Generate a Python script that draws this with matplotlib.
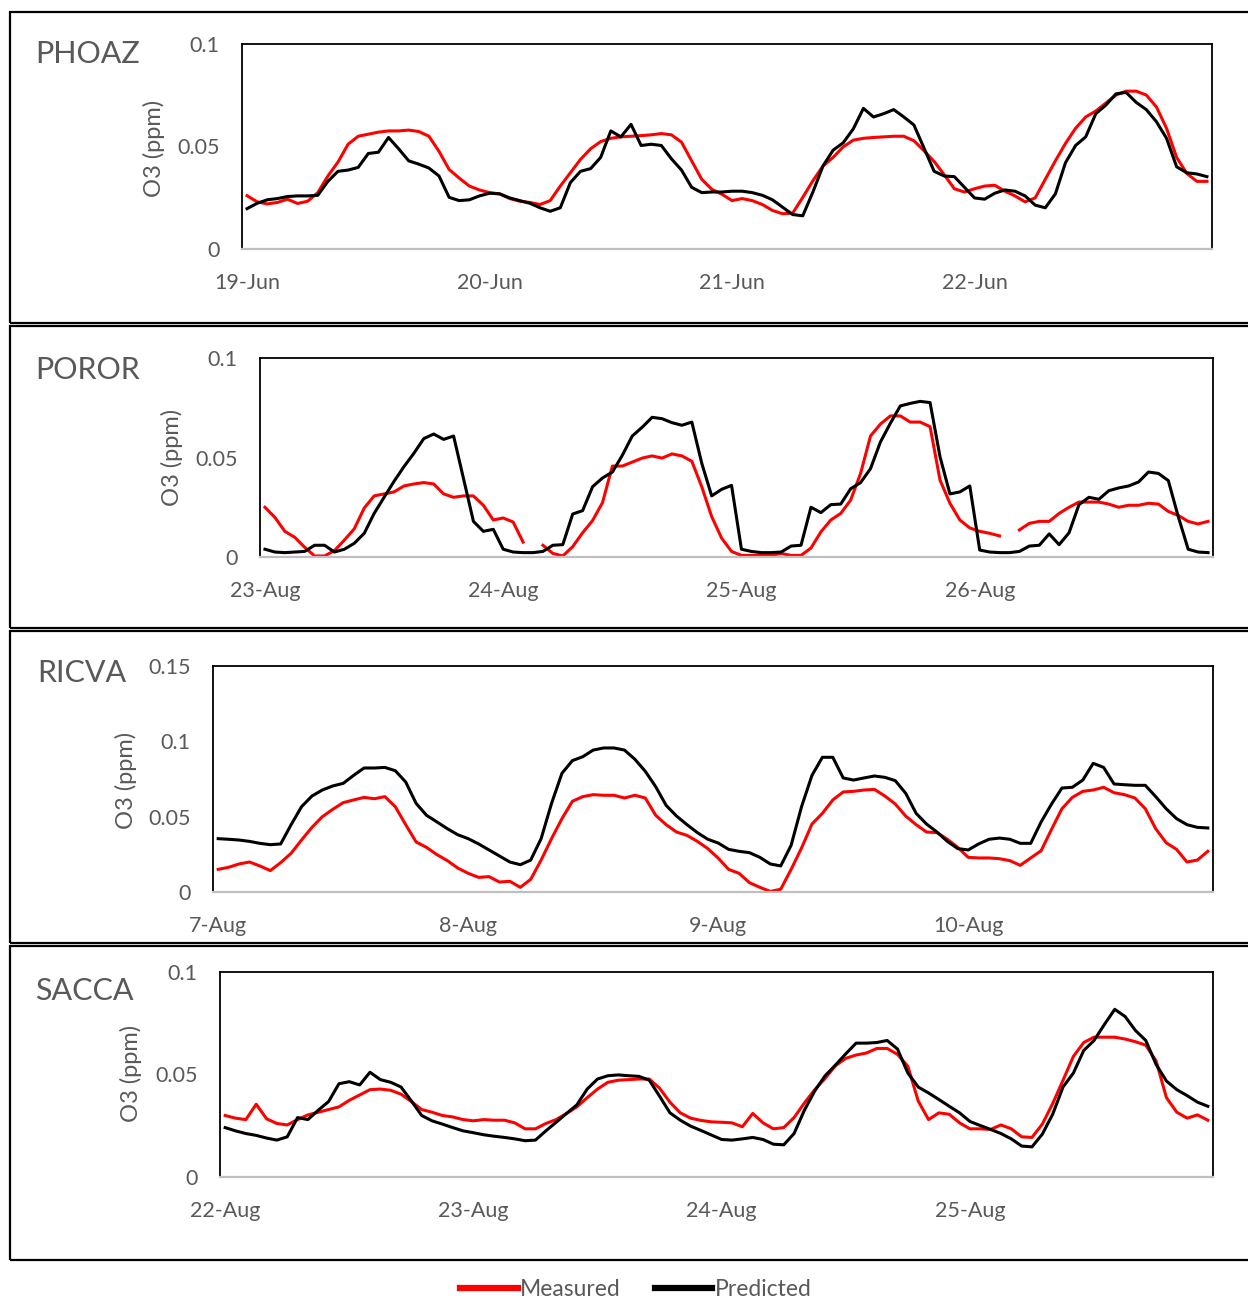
"""
Measured vs predicted hourly O3 at four stations (4-day windows).
"""

import numpy as np
import matplotlib.pyplot as plt
from matplotlib.patches import Rectangle
from matplotlib.lines import Line2D

nan = np.nan

# ── Data: hourly O3 (ppm), 96 hours per station ─────────────────────
phoaz_days = ["19-Jun", "20-Jun", "21-Jun", "22-Jun"]
phoaz_measured = [
    0.026, 0.023, 0.022, 0.0227, 0.0243, 0.0222, 0.0233, 0.0275,
    0.0356, 0.0424, 0.0511, 0.055, 0.056, 0.057, 0.0576, 0.0576,
    0.058, 0.0573, 0.055, 0.0476, 0.0388, 0.0346, 0.0307, 0.0288,
    0.0275, 0.0269, 0.0246, 0.0233, 0.0227, 0.0217, 0.0236, 0.0307,
    0.0372, 0.0437, 0.0489, 0.0524, 0.054, 0.0547, 0.055, 0.0553,
    0.0557, 0.0563, 0.0557, 0.0521, 0.043, 0.034, 0.0291, 0.0267,
    0.0236, 0.0246, 0.0236, 0.0217, 0.0188, 0.0172, 0.0175, 0.0252,
    0.0333, 0.0405, 0.0447, 0.0498, 0.0531, 0.054, 0.0544, 0.0547,
    0.055, 0.055, 0.0528, 0.0479, 0.0427, 0.0362, 0.0294, 0.0278,
    0.0294, 0.0307, 0.0311, 0.0282, 0.0259, 0.023, 0.0249, 0.034,
    0.043, 0.0515, 0.0589, 0.0644, 0.0673, 0.0712, 0.0751, 0.077,
    0.077, 0.0751, 0.0693, 0.0589, 0.0447, 0.0369, 0.033, 0.033,
]
phoaz_predicted = [
    0.0197, 0.0223, 0.024, 0.0246, 0.0256, 0.0259, 0.0259, 0.0262,
    0.033, 0.0379, 0.0385, 0.0398, 0.0466, 0.0472, 0.0544, 0.0489,
    0.043, 0.0414, 0.0395, 0.0356, 0.0252, 0.0236, 0.024, 0.0259,
    0.0272, 0.0269, 0.0249, 0.0236, 0.0223, 0.0201, 0.0184, 0.0201,
    0.0324, 0.0379, 0.0392, 0.0447, 0.0576, 0.0547, 0.0608, 0.0505,
    0.0511, 0.0505, 0.044, 0.0385, 0.0301, 0.0275, 0.0278, 0.0278,
    0.0282, 0.0282, 0.0275, 0.0262, 0.024, 0.0204, 0.0168, 0.0162,
    0.0278, 0.0405, 0.0482, 0.0518, 0.0586, 0.0686, 0.0644, 0.066,
    0.068, 0.0644, 0.0605, 0.0492, 0.0379, 0.0356, 0.0353, 0.0301,
    0.0249, 0.0243, 0.0272, 0.0288, 0.0282, 0.0259, 0.0214, 0.0201,
    0.0269, 0.0421, 0.0505, 0.0547, 0.066, 0.0702, 0.0757, 0.0764,
    0.0715, 0.068, 0.0621, 0.054, 0.0401, 0.0372, 0.0366, 0.0353,
]

poror_days = ["23-Aug", "24-Aug", "25-Aug", "26-Aug"]
poror_measured = [
    0.025, 0.0199, 0.0129, 0.0099, 0.0049, 0.0005, 0.0005, 0.0032,
    0.0085, 0.0142, 0.0246, 0.0307, 0.0317, 0.0327, 0.0357, 0.0367,
    0.0374, 0.0367, 0.0317, 0.030, 0.0307, 0.0307, 0.026, 0.0186,
    0.0196, 0.0176, 0.0075, nan, 0.0059, 0.0018, 0.0005, 0.0052,
    0.0122, 0.0183, 0.0273, 0.0457, 0.0457, 0.0477, 0.0497, 0.0508,
    0.0497, 0.0518, 0.0508, 0.0481, 0.0353, 0.0203, 0.0095, 0.0028,
    0.0008, 0.0008, 0.0008, 0.0008, 0.0018, 0.0008, 0.0008, 0.0045,
    0.0126, 0.0186, 0.0219, 0.0286, 0.042, 0.0608, 0.0668, 0.0709,
    0.0709, 0.0678, 0.0678, 0.0655, 0.0387, 0.027, 0.0186, 0.0146,
    0.0129, 0.0119, 0.0106, nan, 0.0136, 0.0169, 0.0179, 0.0179,
    0.0219, 0.025, 0.0276, 0.0276, 0.0276, 0.0266, 0.025, 0.026,
    0.026, 0.027, 0.0266, 0.0229, 0.0209, 0.0179, 0.0166, 0.0179,
]
poror_predicted = [
    0.0039, 0.0025, 0.0022, 0.0025, 0.0028, 0.0059, 0.0059, 0.0025,
    0.0039, 0.0069, 0.0119, 0.0219, 0.030, 0.038, 0.0454, 0.0521,
    0.0595, 0.0618, 0.0591, 0.0608, 0.0394, 0.0179, 0.0129, 0.0139,
    0.0039, 0.0025, 0.0022, 0.0022, 0.0028, 0.0059, 0.0062, 0.0216,
    0.0233, 0.0353, 0.0397, 0.0427, 0.0511, 0.0608, 0.0652, 0.0702,
    0.0695, 0.0675, 0.0662, 0.0678, 0.0471, 0.0307, 0.034, 0.036,
    0.0039, 0.0028, 0.0022, 0.0022, 0.0025, 0.0055, 0.0059, 0.025,
    0.0223, 0.0263, 0.0266, 0.0343, 0.0374, 0.0444, 0.0578, 0.0672,
    0.0759, 0.0772, 0.0782, 0.0776, 0.0504, 0.0317, 0.0327, 0.0357,
    0.0035, 0.0025, 0.0022, 0.0022, 0.0028, 0.0055, 0.0059, 0.0116,
    0.0062, 0.0122, 0.0263, 0.030, 0.029, 0.0333, 0.0347, 0.0357,
    0.0377, 0.0427, 0.042, 0.0384, 0.0203, 0.0039, 0.0025, 0.0022,
]

ricva_days = ["7-Aug", "8-Aug", "9-Aug", "10-Aug"]
ricva_measured = [
    0.015, 0.0164, 0.0186, 0.0199, 0.0173, 0.0142, 0.0195, 0.0257,
    0.0345, 0.0429, 0.050, 0.0549, 0.0593, 0.0611, 0.0628, 0.0619,
    0.0633, 0.0566, 0.0447, 0.0332, 0.0296, 0.0248, 0.0208, 0.0159,
    0.0124, 0.0097, 0.0102, 0.0066, 0.0071, 0.0031, 0.0084, 0.0212,
    0.0354, 0.0487, 0.0602, 0.0633, 0.0646, 0.0642, 0.0642, 0.0624,
    0.0642, 0.0624, 0.0509, 0.0447, 0.0398, 0.0376, 0.0336, 0.0288,
    0.0225, 0.015, 0.0124, 0.0062, 0.0031, 0.0004, 0.0018, 0.015,
    0.0292, 0.0451, 0.0522, 0.0611, 0.0664, 0.0668, 0.0677, 0.0681,
    0.0637, 0.0584, 0.0504, 0.0447, 0.0398, 0.0394, 0.035, 0.0296,
    0.023, 0.0226, 0.0226, 0.0221, 0.0208, 0.0177, 0.0226, 0.0274,
    0.0416, 0.0553, 0.0628, 0.0668, 0.0677, 0.0695, 0.0659, 0.0646,
    0.0624, 0.0553, 0.042, 0.0327, 0.0283, 0.0199, 0.0212, 0.027,
]
ricva_predicted = [
    0.0354, 0.035, 0.0345, 0.0336, 0.0323, 0.0314, 0.0319, 0.0447,
    0.0566, 0.0637, 0.0677, 0.0704, 0.0721, 0.0774, 0.0823, 0.0823,
    0.0827, 0.0805, 0.073, 0.0588, 0.0509, 0.0465, 0.042, 0.038,
    0.0354, 0.0319, 0.0279, 0.0239, 0.0199, 0.0181, 0.0212, 0.0354,
    0.0588, 0.0788, 0.0872, 0.0898, 0.0942, 0.0956, 0.0956, 0.0942,
    0.0881, 0.0801, 0.0699, 0.0575, 0.0504, 0.0447, 0.0394, 0.035,
    0.0325, 0.0283, 0.027, 0.0261, 0.023, 0.0186, 0.0173, 0.031,
    0.0566, 0.0774, 0.0894, 0.0894, 0.0757, 0.0743, 0.0757, 0.077,
    0.0761, 0.0739, 0.0655, 0.0522, 0.0451, 0.0398, 0.0336, 0.0288,
    0.0279, 0.0319, 0.035, 0.0358, 0.035, 0.0323, 0.0323, 0.0465,
    0.0584, 0.069, 0.0695, 0.0743, 0.0854, 0.0827, 0.0717, 0.0712,
    0.0708, 0.0708, 0.0633, 0.0553, 0.0487, 0.0447, 0.0429, 0.0425,
]

sacca_days = ["22-Aug", "23-Aug", "24-Aug", "25-Aug"]
sacca_measured = [
    0.030, 0.0287, 0.028, 0.0355, 0.0284, 0.0261, 0.0254, 0.028,
    0.0303, 0.0316, 0.0329, 0.0342, 0.0374, 0.040, 0.0426, 0.0429,
    0.0423, 0.0404, 0.0368, 0.0329, 0.0316, 0.030, 0.0293, 0.028,
    0.0274, 0.028, 0.0277, 0.0277, 0.0264, 0.0235, 0.0235, 0.0261,
    0.028, 0.031, 0.0342, 0.0387, 0.0429, 0.0462, 0.0472, 0.0475,
    0.0478, 0.0478, 0.0433, 0.0365, 0.0313, 0.0287, 0.0276, 0.0269,
    0.0267, 0.0264, 0.0245, 0.031, 0.0264, 0.0235, 0.0241, 0.029,
    0.0361, 0.0426, 0.0481, 0.0543, 0.0579, 0.0595, 0.0605, 0.0627,
    0.0627, 0.0598, 0.054, 0.0371, 0.028, 0.0313, 0.0306, 0.0264,
    0.0235, 0.0235, 0.0232, 0.0254, 0.0235, 0.0196, 0.0193, 0.0258,
    0.0358, 0.0472, 0.0588, 0.0656, 0.0682, 0.0682, 0.0682, 0.0673,
    0.066, 0.0643, 0.0566, 0.0387, 0.0316, 0.0287, 0.0303, 0.0277,
]
sacca_predicted = [
    0.0241, 0.0225, 0.0212, 0.0203, 0.019, 0.018, 0.0196, 0.029,
    0.028, 0.0326, 0.0368, 0.0455, 0.0465, 0.0449, 0.0511, 0.0475,
    0.0462, 0.0439, 0.0371, 0.030, 0.0274, 0.0258, 0.0241, 0.0225,
    0.0216, 0.0206, 0.0199, 0.0193, 0.0186, 0.0177, 0.018, 0.0225,
    0.0267, 0.031, 0.0352, 0.0429, 0.0478, 0.0494, 0.0498, 0.0494,
    0.0491, 0.0472, 0.0394, 0.0313, 0.0277, 0.0248, 0.0227, 0.0205,
    0.0183, 0.018, 0.0186, 0.0193, 0.0183, 0.016, 0.0157, 0.0212,
    0.0326, 0.042, 0.0494, 0.0546, 0.0601, 0.0653, 0.0653, 0.0656,
    0.0666, 0.0624, 0.0507, 0.0439, 0.041, 0.0378, 0.0345, 0.0313,
    0.0271, 0.0251, 0.0232, 0.0212, 0.0186, 0.0151, 0.0147, 0.0209,
    0.0306, 0.0439, 0.0507, 0.0617, 0.0666, 0.0744, 0.0818, 0.0783,
    0.0715, 0.0666, 0.0549, 0.0468, 0.0426, 0.0397, 0.0365, 0.0345,
]

# ── Layout (pixel coordinates of the 1248 x 1300 canvas) ────────────
W, H = 1248, 1300
GREY = "#595959"
plt.rcParams["font.family"] = ["Lato", "DejaVu Sans"]

fig = plt.figure(figsize=(W / 100, H / 100), dpi=100)


def px_rect(left, top, right, bottom):
    """Pixel box -> figure-fraction [x, y, w, h]."""
    return [left / W, 1 - bottom / H, (right - left) / W, (bottom - top) / H]


def draw_panel(name, days, measured, predicted, yticks,
               box, plot, name_xy, ylabel_xy):
    # outer frame around the panel
    bx = px_rect(*box)
    fig.patches.append(Rectangle((bx[0], bx[1]), bx[2], bx[3], fill=False,
                                 ec="black", lw=1.6, transform=fig.transFigure))

    ax = fig.add_axes(px_rect(*plot))
    hours = np.arange(len(measured))
    ax.plot(hours, measured, color="#ff0000", lw=2.2, label="Measured")
    ax.plot(hours, predicted, color="black", lw=2.2, label="Predicted")

    ax.set_xlim(-0.5, len(hours) - 0.5)
    ax.set_ylim(yticks[0], yticks[-1])
    ax.set_xticks(np.arange(len(days)) * 24)
    ax.set_xticklabels(days)
    ax.set_yticks(yticks)
    ax.set_yticklabels([f"{v:g}" for v in yticks])
    ax.tick_params(axis="x", length=0, pad=17, labelsize=15.5, labelcolor=GREY)
    ax.tick_params(axis="y", length=0, pad=16, labelsize=15.5, labelcolor=GREY)

    for side in ("left", "top", "right"):
        ax.spines[side].set_color("black")
        ax.spines[side].set_linewidth(1.3)
    ax.spines["bottom"].set_color("#bfbfbf")
    ax.spines["bottom"].set_linewidth(1.6)

    fig.text(name_xy[0] / W, 1 - name_xy[1] / H, name, fontsize=22,
             color=GREY, ha="left", va="baseline")
    fig.text(ylabel_xy[0] / W, 1 - ylabel_xy[1] / H, "O3 (ppm)", fontsize=17,
             color=GREY, rotation=90, ha="center", va="center")


# ── Panels ──────────────────────────────────────────────────────────
draw_panel("PHOAZ", phoaz_days, phoaz_measured, phoaz_predicted,
           [0, 0.05, 0.1],
           box=(10, 12, 1260, 323), plot=(242, 44, 1212, 249),
           name_xy=(35, 63), ylabel_xy=(154, 148))
draw_panel("POROR", poror_days, poror_measured, poror_predicted,
           [0, 0.05, 0.1],
           box=(10, 326, 1260, 628), plot=(260, 358, 1213, 557),
           name_xy=(35, 379), ylabel_xy=(172, 457))
draw_panel("RICVA", ricva_days, ricva_measured, ricva_predicted,
           [0, 0.05, 0.1, 0.15],
           box=(10, 631, 1260, 943), plot=(213, 666, 1213, 892),
           name_xy=(37, 682), ylabel_xy=(126, 780))
draw_panel("SACCA", sacca_days, sacca_measured, sacca_predicted,
           [0, 0.05, 0.1],
           box=(10, 946, 1260, 1260), plot=(220, 972, 1213, 1177),
           name_xy=(35, 1000), ylabel_xy=(131, 1073))

# ── Shared legend at the bottom ─────────────────────────────────────
handles = [Line2D([], [], color="#ff0000", lw=4.5),
           Line2D([], [], color="black", lw=4.5)]
fig.legend(handles, ["Measured", "Predicted"], loc="center",
           bbox_to_anchor=(636 / W, 1 - 1290 / H), ncol=2, frameon=False,
           fontsize=16.5, labelcolor=GREY, handlelength=2.5,
           handletextpad=0.1, columnspacing=1.5)

fig.savefig("out.png", dpi=100)
